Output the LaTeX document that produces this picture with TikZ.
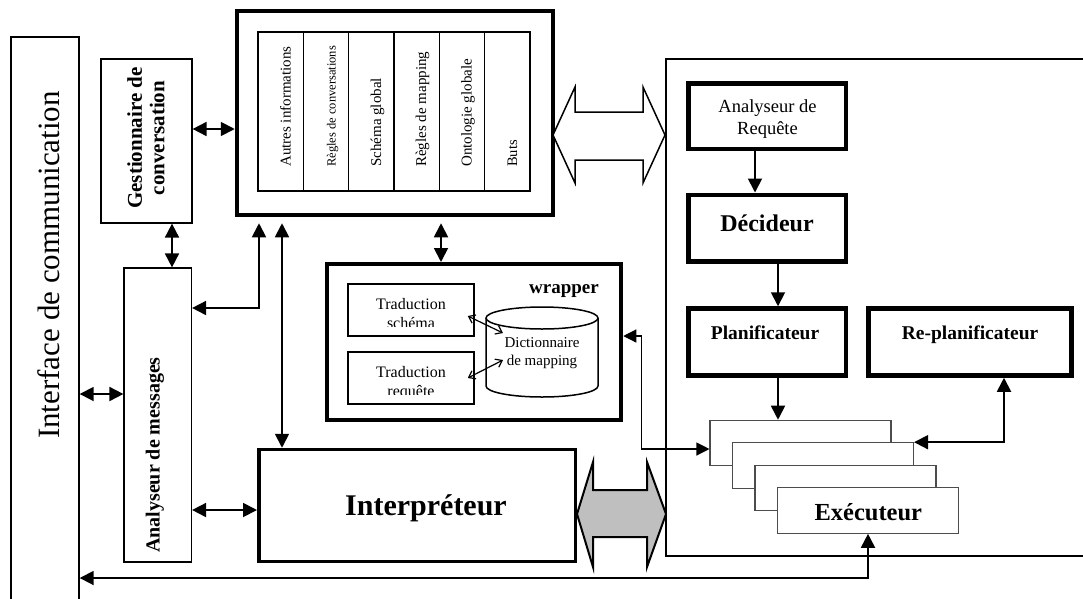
\documentclass[tikz,border=0pt]{standalone}
\usepackage{fontspec}
\setmainfont{Liberation Serif}
\usetikzlibrary{arrows.meta}
\newcommand\setfs[2]{\fontsize{#1}{#2}\selectfont}

\begin{document}
\begin{tikzpicture}[x=1pt,y=-1pt,
  link/.style={line width=1.8pt,
    {Triangle[length=14pt,width=14pt]}-{Triangle[length=14pt,width=14pt]}},
  flow/.style={line width=1.8pt, -{Triangle[length=14pt,width=14pt]}},
  thinlink/.style={line width=1.2pt,
    {Triangle[length=13pt,width=13pt]}-{Triangle[length=13pt,width=13pt]}},
  barb/.style={line width=1.2pt,
    {Straight Barb[length=6pt,width=9pt]}-{Straight Barb[length=6pt,width=9pt]}},
  thinbox/.style={draw, line width=1.2pt, inner sep=0pt, fill=white},
  heavybox/.style={draw, line width=#1, inner sep=0pt, fill=white},
  cell/.style={draw, line width=1.2pt, inner sep=0pt, minimum width=45.33pt, minimum height=159pt},
  celltext/.style={rotate=90, anchor=base west, inner sep=0pt},
  execbox/.style={draw=black!70, line width=1.1pt, fill=white, inner sep=0pt,
    minimum width=181pt, minimum height=45.5pt},
  bigarrow/.style={draw, line width=#1, line join=miter},
]
\useasboundingbox (0,0) rectangle (1083,598);
\fill[white] (0,0) rectangle (1083,598);

% communication interface (open at the bottom)
\node[draw, line width=1.4pt, minimum width=68pt, minimum height=583pt] (iface) at (45,328.5) {};
\node[rotate=90, font=\setfs{31}{33}] (ifacetxt) at (49,265) {Interface de communication};

% conversation manager and message analyser
\node[thinbox, minimum width=91pt, minimum height=164pt] (gest) at (146.5,141) {};
\node[rotate=90, align=center, font=\bfseries\setfs{21}{22.5}] (gesttxt) at (146,138)
  {Gestionnaire de\\conversation};
\node[thinbox, minimum width=67.5pt, minimum height=294pt] (am) at (157.75,415) {};
\node[rotate=90, font=\bfseries\setfs{20}{22}] (amtxt) at (155,455) {Analyseur de messages};

% knowledge base
\node[heavybox=4.5pt, minimum width=316pt, minimum height=204pt] (kb) at (395,113) {};
\node[cell] (c1) at (280.67,111.5) {};
\node[cell] (c2) at (326.00,111.5) {};
\node[cell] (c3) at (371.33,111.5) {};
\node[cell] (c4) at (416.67,111.5) {};
\node[cell] (c5) at (462.00,111.5) {};
\node[cell] (c6) at (507.33,111.5) {};
\node[celltext, font=\setfs{15}{15}] (t1) at (290.5,167) {Autres informations};
\node[celltext, font=\setfs{12.5}{12.5}] (t2) at (335.5,167) {Règles de conversations};
\node[celltext, font=\setfs{15}{15}] (t3) at (381,167) {Schéma global};
\node[celltext, font=\setfs{15}{15}] (t4) at (426,167) {Règles de mapping};
\node[celltext, font=\setfs{15}{15}] (t5) at (471.5,167) {Ontologie globale};
\node[celltext, font=\setfs{14.5}{14.5}] (t6) at (517,167) {Buts};

% wrapper
\node[heavybox=4pt, minimum width=294.5pt, minimum height=156pt] (wrap) at (474,342) {};
\node[anchor=base, font=\bfseries\setfs{19}{19}] (wraptxt) at (564,293) {wrapper};
\node[draw, line width=1.5pt, inner sep=0pt, minimum width=126pt, minimum height=52pt] (ts) at (411,310) {};
\node[draw, line width=1.5pt, inner sep=0pt, minimum width=126pt, minimum height=52pt] (tr) at (411,378) {};
\begin{scope}
  \clip (349,285) rectangle (473,326.5);
  \node[anchor=base, font=\setfs{16}{16}] (ts1) at (411,309) {Traduction};
  \node[anchor=base, font=\setfs{16}{16}] (ts2) at (411,328) {schéma};
\end{scope}
\begin{scope}
  \clip (349,353) rectangle (473,394);
  \node[anchor=base, font=\setfs{16}{16}] (tr1) at (411,377.5) {Traduction};
  \node[anchor=base, font=\setfs{16}{16}] (tr2) at (411,396.5) {requête};
\end{scope}
% mapping dictionary (cylinder)
\draw[line width=1.5pt, fill=white] (486,318) -- (486,386)
  arc[start angle=180, end angle=360, x radius=56pt, y radius=11pt] -- (598,318);
\draw[line width=1.5pt] (542,318) ellipse [x radius=56pt, y radius=11pt];
\node[align=center, font=\setfs{15}{18}] (dict) at (542,353) {Dictionnaire\\de mapping};
\draw[barb] ([xshift=-7pt,yshift=-6pt]ts.east) -- ([xshift=-39pt,yshift=20pt]dict.center);
\draw[barb] ([xshift=-7pt]tr.east) -- ([xshift=-39pt,yshift=-7pt]dict.center);

% interpreter
\node[heavybox=3.5pt, minimum width=316.5pt, minimum height=112pt] (interp) at (417,505.5) {};
\node[anchor=base, font=\bfseries\setfs{30}{30}] (interptxt) at (426,515) {Interpréteur};

% planning agent panel (open on the right)
\node[draw, line width=1.3pt, minimum width=440pt, minimum height=497pt] (panel) at (886,307.5) {};
\node[heavybox=4.5pt, minimum width=157.5pt, minimum height=65.5pt] (arq) at (767,116) {};
\node[align=center, font=\setfs{18.5}{22}] (arqtxt) at (767.5,119) {Analyseur de\\Requête};
\node[heavybox=4.5pt, minimum width=157.5pt, minimum height=66.5pt] (dec) at (767,228) {};
\node[anchor=base, font=\bfseries\setfs{24}{24}] (dectxt) at (767,231) {Décideur};
\node[heavybox=4.5pt, minimum width=157.5pt, minimum height=67pt] (plan) at (767,342) {};
\node[anchor=base, font=\bfseries\setfs{19.5}{19.5}] (plantxt) at (765,339) {Planificateur};
\node[heavybox=4.5pt, minimum width=203pt, minimum height=67pt] (rplan) at (970,342) {};
\node[anchor=base, font=\bfseries\setfs{19.5}{19.5}] (rplantxt) at (970,339) {Re-planificateur};

% stack of executors
\node[execbox] (r1) at (800.5,443) {};
\node[execbox] (r2) at (823,465.5) {};
\node[execbox] (r3) at (845.5,488) {};
\node[execbox] (r4) at (868,510.5) {};
\node[anchor=base, font=\bfseries\setfs{24.5}{24.5}] (r4txt) at (868.3,520.7) {Exécuteur};

% wide exchange arrows
\draw[bigarrow=1.5pt, fill=white] (553,135) -- (575,87) -- (575,112) -- (643,112) -- (643,87)
  -- (665,135) -- (643,183) -- (643,160) -- (575,160) -- (575,183) -- cycle;
\draw[bigarrow=2pt, fill=black!25] (577,514) -- (593,462) -- (593,490) -- (647,490) -- (647,462)
  -- (666,514) -- (647,567) -- (647,537) -- (593,537) -- (593,567) -- cycle;

% connectors on the left
\path ([yshift=21pt]am.west) coordinate (aml);
\draw[link] (aml) -- (aml -| iface.east);
\path ([yshift=12pt]gest.east) coordinate (gk);
\draw[link] (gk) -- (gk -| kb.west);
\draw[link] ([xshift=25.5pt]gest.south) -- ([xshift=14.25pt]am.north);
\path ([yshift=107pt]am.east) coordinate (amk);
\draw[link, shorten <=6pt] ([xshift=-136pt]kb.south) |- (amk);
\draw[link, shorten <=6pt] ([xshift=-113pt]kb.south) -- ([xshift=-135pt]interp.north);
\draw[link, shorten <=6pt] ([xshift=46pt]kb.south) -- ([xshift=-33pt]wrap.north);
\path ([yshift=-95pt]am.east) coordinate (ami);
\draw[link] (ami) -- (ami -| interp.west);

% connectors on the right
\draw[flow] ([xshift=-12pt]arq.south) -- ([xshift=-12pt]dec.north);
\draw[flow] ([xshift=11pt]dec.south) -- ([xshift=11pt]plan.north);
\draw[flow] ([xshift=11pt]plan.south) -- ([xshift=-22.5pt]r1.north);
\draw[link] ([xshift=34pt]rplan.south) |- (r2.north east);
\draw[thinlink] ([yshift=6pt]wrap.east) -- ++(18.5,0) |- ([yshift=-6pt]r1.west);
\coordinate (fbk) at (0,578);
\draw[link] (r4.south) |- (iface.east |- fbk);
\end{tikzpicture}
\end{document}
